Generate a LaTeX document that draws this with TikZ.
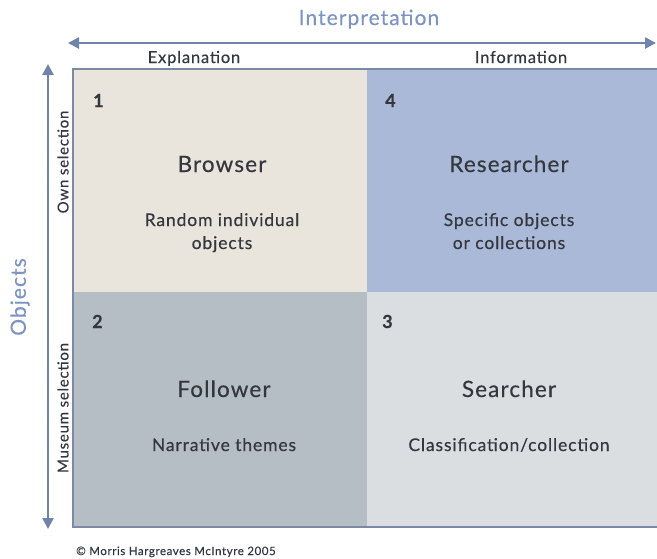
\documentclass[tikz,border=0pt]{standalone}
\usepackage{fontspec}
\setmainfont{Lato}[LetterSpace=5, FakeBold=0.35]
\usetikzlibrary{arrows.meta}
\definecolor{axisblue}{HTML}{6F83AC}
\definecolor{labelblue}{HTML}{7C93C4}
\definecolor{framec}{HTML}{7B89A5}
\definecolor{inkc}{HTML}{34373E}
\definecolor{cellA}{HTML}{E9E4DC}
\definecolor{cellB}{HTML}{AAB9D7}
\definecolor{cellC}{HTML}{B5BDC5}
\definecolor{cellD}{HTML}{DADEE1}
\begin{document}
\begin{tikzpicture}[x=1pt,y=-1pt,
  axisline/.style={draw=axisblue, line width=2.6pt,
    {Triangle[length=11pt,width=11pt]}-{Triangle[length=11pt,width=11pt]}},
  cell/.style={draw=none, inner sep=0pt, anchor=north west},
  frameline/.style={draw=framec, line width=2pt},
  axistitle/.style={text=labelblue, font=\fontsize{21}{24}\selectfont, inner sep=0pt},
  poletext/.style={text=inkc, font=\fontsize{16.5}{19}\selectfont, inner sep=0pt},
  sidetext/.style={text=inkc, font=\fontsize{15}{18}\selectfont, inner sep=0pt},
  quadnum/.style={text=inkc, font=\fontsize{18}{20}\selectfont\bfseries, inner sep=0pt, anchor=base west},
  quadtitle/.style={text=inkc, font=\fontsize{22.5}{26}\selectfont, inner sep=0pt, anchor=base},
  quadtext/.style={text=inkc, font=\fontsize{17.5}{21}\selectfont, inner sep=0pt, anchor=base},
  credit/.style={text=inkc, font=\fontsize{11.5}{13}\selectfont, inner sep=0pt, anchor=base west}]
\useasboundingbox (0,0) rectangle (657,558);

% four quadrants
\node[cell, fill=cellA, minimum width=294pt, minimum height=223pt] (q1) at (73,69) {};
\node[cell, fill=cellB, minimum width=291pt, minimum height=223pt] (q4) at (367,69) {};
\node[cell, fill=cellC, minimum width=294pt, minimum height=235pt] (q2) at (73,292) {};
\node[cell, fill=cellD, minimum width=291pt, minimum height=235pt] (q3) at (367,292) {};

% outer frame (open on the right)
\draw[frameline] (q4.north east) -- (q1.north west) -- (q2.south west) -- (q3.south east);

% axes
\coordinate (hl) at (68,43);
\coordinate (hr) at (656,43);
\coordinate (vt) at (48,64);
\coordinate (vb) at (48,529);
\draw[axisline] (hl) -- (hr);
\draw[axisline] (vb) -- (vt);

% axis titles
\node[axistitle, anchor=base] (interp) at (369,25) {Interpretation};
\node[axistitle, rotate=90] (objs) at (20,297) {Objects};
\node[poletext, anchor=base] (expl) at (194,63) {Explanation};
\node[poletext, anchor=base] (info) at (521,63) {Information};
\node[sidetext, rotate=90] (own) at (63,162) {Own selection};
\node[sidetext, rotate=90] (museum) at (63,408) {Museum selection};

% quadrant contents
\node[quadnum] (n1) at (93,107) {1};
\node[quadnum] (n4) at (385,107) {4};
\node[quadnum] (n2) at (92,328) {2};
\node[quadnum] (n3) at (382,328) {3};

\node[quadtitle] (browser) at (222,172) {Browser};
\node[quadtext] (browsera) at (222,226) {Random individual};
\node[quadtext] (browserb) at (222,249) {objects};

\node[quadtitle] (researcher) at (509,172) {Researcher};
\node[quadtext] (researchera) at (509,226) {Specific objects};
\node[quadtext] (researcherb) at (509,249) {or collections};

\node[quadtitle] (follower) at (224,397) {Follower};
\node[quadtext] (followera) at (224,451) {Narrative themes};

\node[quadtitle] (searcher) at (509,397) {Searcher};
\node[quadtext] (searchera) at (509,451) {Classification/collection};

\node[credit] (copy) at (76,555) {© Morris Hargreaves McIntyre 2005};
\end{tikzpicture}
\end{document}
